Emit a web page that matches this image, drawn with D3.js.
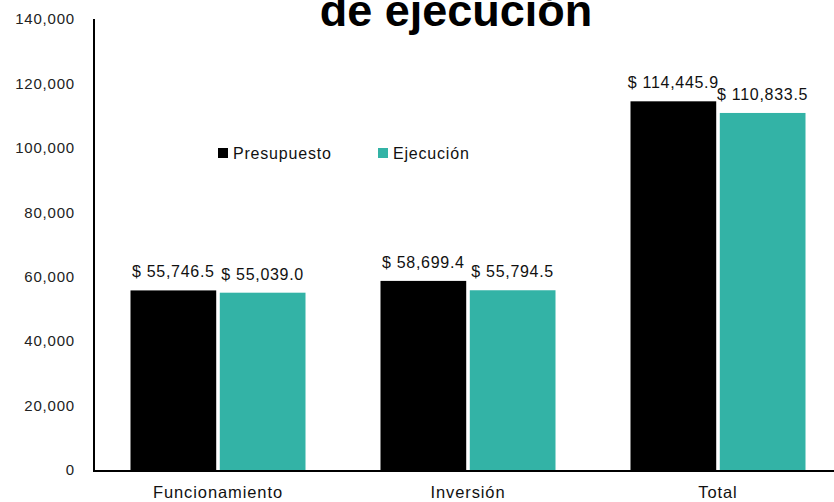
<!DOCTYPE html>
<html>
<head>
<meta charset="utf-8">
<script src="https://cdn.jsdelivr.net/npm/d3@7"></script>
<style>
  body { margin: 0; background: #fff; }
  text { font-family: "Liberation Sans", Arial, sans-serif; }
</style>
</head>
<body>
<div id="canvas"></div>
<script>
"use strict"

/* drawing size */
let svgWidth = 834;
let svgHeight = 502;
let leftMargin = 93
let plotRight = 843
let topMargin = 19
let bottomY = 470

/* data */
let categories = ["Funcionamiento", "Inversión", "Total"];
let seriesNames = ["Presupuesto", "Ejecución"];
let presupuesto = [55746.5, 58699.4, 114445.9];
let ejecucion = [55039.0, 55794.5, 110833.5];
let yTicks = [0, 20000, 40000, 60000, 80000, 100000, 120000, 140000];
let colors = ["#000000", "#33b3a6"];

let svg = d3.select("#canvas")
    .append("svg")
    .attr("width", svgWidth)
    .attr("height", svgHeight);

let xScale = d3.scaleBand()
    .domain(categories)
    .range([leftMargin, plotRight])
    .paddingInner(0.3)
    .paddingOuter(0.15);

let xSub = d3.scaleBand()
    .domain(seriesNames)
    .range([0, xScale.bandwidth()])
    .paddingInner(0.04);

let yScale = d3.scaleLinear()
    .domain([0, 140000])
    .range([bottomY, topMargin]);

/* title (first line is cut by the top edge, as in the original) */
svg.append("text")
    .attr("x", 456)
    .attr("y", 26)
    .attr("text-anchor", "middle")
    .attr("font-size", 45)
    .attr("font-weight", 900)
    .text("de ejecución");

/* bars */
let values = [presupuesto, ejecucion];
let fmt = d3.format(",.1f");

for (let s = 0; s < 2; s++) {
    let g = svg.append("g");
    g.selectAll("rect")
        .data(categories)
        .join("rect")
        .attr("x", function (d) { return xScale(d) + xSub(seriesNames[s]); })
        .attr("y", function (d, i) { return yScale(values[s][i]); })
        .attr("width", xSub.bandwidth())
        .attr("height", function (d, i) { return bottomY - yScale(values[s][i]); })
        .attr("fill", colors[s]);

    g.selectAll("text")
        .data(categories)
        .join("text")
        .attr("x", function (d) { return xScale(d) + xSub(seriesNames[s]) + xSub.bandwidth() / 2; })
        .attr("y", function (d, i) { return yScale(values[s][i]) - 13; })
        .attr("text-anchor", "middle")
        .attr("font-size", 16)
        .attr("letter-spacing", 0.7)
        .attr("fill", "#111")
        .text(function (d, i) { return "$ " + fmt(values[s][i]); });
}

/* y axis line and labels */
svg.append("line")
    .attr("x1", leftMargin + 1)
    .attr("y1", topMargin)
    .attr("x2", leftMargin + 1)
    .attr("y2", bottomY + 1)
    .attr("stroke", "#000")
    .attr("stroke-width", 2);

svg.append("line")
    .attr("x1", leftMargin)
    .attr("y1", bottomY + 1)
    .attr("x2", svgWidth)
    .attr("y2", bottomY + 1)
    .attr("stroke", "#000")
    .attr("stroke-width", 2);

svg.selectAll(".ytick")
    .data(yTicks)
    .join("text")
    .attr("class", "ytick")
    .attr("x", 75)
    .attr("y", function (d) { return yScale(d); })
    .attr("dy", "0.35em")
    .attr("text-anchor", "end")
    .attr("font-size", 15)
    .attr("letter-spacing", 0.8)
    .attr("fill", "#222")
    .text(function (d) { return d3.format(",")(d); });

/* x labels */
svg.selectAll(".xlab")
    .data(categories)
    .join("text")
    .attr("class", "xlab")
    .attr("x", function (d) { return xScale(d) + xScale.bandwidth() / 2; })
    .attr("y", 498)
    .attr("text-anchor", "middle")
    .attr("font-size", 16.5)
    .attr("letter-spacing", 0.9)
    .attr("fill", "#111")
    .text(function (d) { return d; });

/* legend */
let legendX = [218, 378];
for (let i = 0; i < 2; i++) {
    svg.append("rect")
        .attr("x", legendX[i])
        .attr("y", 148)
        .attr("width", 10)
        .attr("height", 10)
        .attr("fill", colors[i]);
    svg.append("text")
        .attr("x", legendX[i] + 15)
        .attr("y", 158.5)
        .attr("font-size", 16)
        .attr("letter-spacing", 0.8)
        .attr("fill", "#111")
        .text(seriesNames[i]);
}
</script>
</body>
</html>
